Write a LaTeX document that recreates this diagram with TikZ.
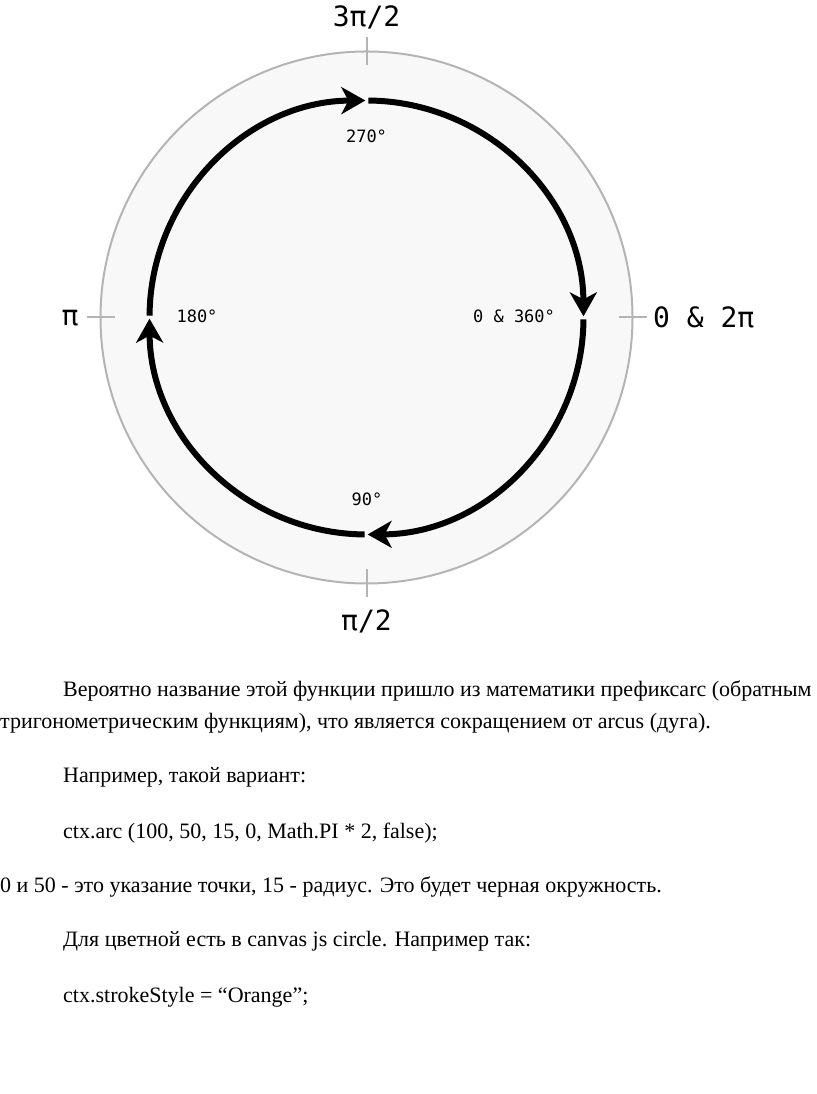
\documentclass[tikz,border=0pt]{standalone}
\usepackage{fontspec}
\setmainfont{Liberation Serif}
\newfontfamily\monofont{DejaVu Sans Mono}
\usetikzlibrary{arrows.meta}
\definecolor{ringgray}{HTML}{B4B4B4}
\definecolor{ringfill}{HTML}{F8F8F8}
\tikzset{
  outerring/.style={draw=ringgray, fill=ringfill, line width=2pt},
  tickline/.style={draw=ringgray, line width=2pt},
  arcline/.style={draw=black, line width=6pt, -{Stealth[length=24pt, width=27pt, inset=7pt]}},
  biglabel/.style={font=\monofont\fontsize{28}{32}\selectfont, inner sep=0pt},
  smalllabel/.style={font=\monofont\fontsize{17}{20}\selectfont, inner sep=0pt},
  bodytext/.style={font=\fontsize{22}{26}\selectfont, inner sep=0pt, anchor=base west}
}
\begin{document}
\begin{tikzpicture}[x=1pt,y=1pt]
\useasboundingbox (0,0) rectangle (816,1094);
\clip (0,0) rectangle (816,1094);
\coordinate (C) at (366.5,776.5);
\draw[outerring] (C) circle[radius=266];
\foreach \a/\n in {90/t, 0/r, -90/b, 180/l} {
  \coordinate (\n1) at ([shift={(\a:252)}]C);
  \coordinate (\n2) at ([shift={(\a:280)}]C);
  \draw[tickline] (\n1) -- (\n2);
}
\coordinate (a1) at ([shift={(179.5:217)}]C);
\coordinate (a2) at ([shift={(89.5:217)}]C);
\coordinate (a3) at ([shift={(-0.5:217)}]C);
\coordinate (a4) at ([shift={(-90.5:217)}]C);
\draw[arcline] (a1) arc[start angle=179.5, end angle=90.3, radius=217];
\draw[arcline] (a2) arc[start angle=89.5, end angle=0.3, radius=217];
\draw[arcline] (a3) arc[start angle=-0.5, end angle=-89.7, radius=217];
\draw[arcline] (a4) arc[start angle=-90.5, end angle=-179.7, radius=217];
\node[biglabel] (lt) at (366.5,1077) {3π/2};
\node[biglabel] (lb) at (366.5,473) {π/2};
\node[biglabel] (ll) at (70,776) {π};
\node[biglabel, anchor=west] (lr) at (653,777) {0 \& 2π};
\node[smalllabel] (d270) at (366.5,958) {270°};
\node[smalllabel] (d180) at (197,778) {180°};
\node[smalllabel] (d0) at (514,778) {0 \& 360°};
\node[smalllabel] (d90) at (367,595) {90°};
\node[bodytext] (p1) at (63,397) {Вероятно название этой функции пришло из математики префиксarc (обратным};
\node[bodytext] (p2) at (0,365) {тригонометрическим функциям), что является сокращением от arcus (дуга).};
\node[bodytext] (p3) at (63,311) {Например, такой вариант:};
\node[bodytext] (p4) at (63,255) {ctx.arc (100, 50, 15, 0, Math.PI * 2, false);};
\node[bodytext] (p5) at (0,201) {0 и 50 - это указание точки, 15 - радиус. Это будет черная окружность.};
\node[bodytext] (p6) at (63,147) {Для цветной есть в canvas js circle. Например так:};
\node[bodytext] (p7) at (63,91) {ctx.strokeStyle = “Orange”;};
\end{tikzpicture}
\end{document}
